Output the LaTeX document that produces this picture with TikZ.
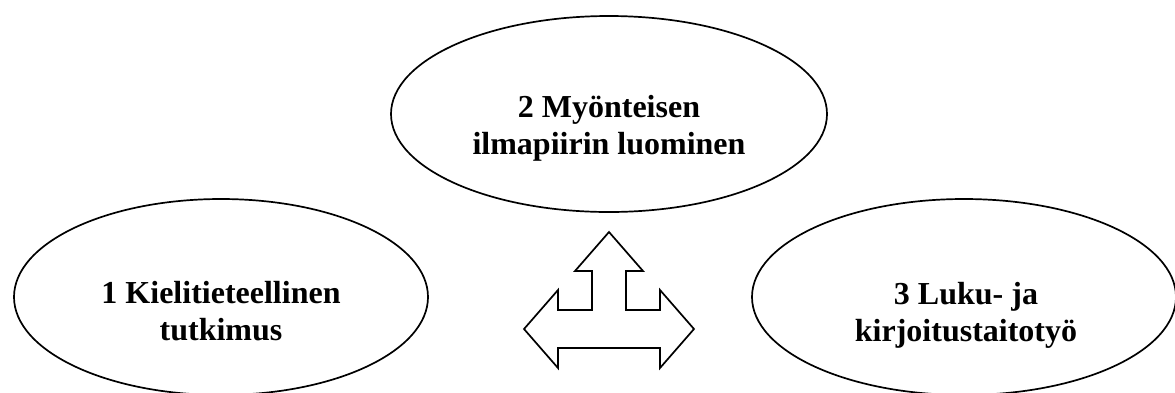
\documentclass[tikz,border=0pt]{standalone}
\usepackage{fontspec}
\setmainfont{Liberation Serif}
\usetikzlibrary{shapes.geometric}
\begin{document}
\begin{tikzpicture}[x=1pt,y=-1pt,
  oval/.style={draw, ellipse, line width=1.7pt, inner sep=0pt},
  ovaltext/.style={align=center, font=\fontsize{32}{37}\selectfont\bfseries, inner sep=0pt},
  bigarrow/.style={draw, line width=1.7pt, line join=miter, fill=white}]
  \useasboundingbox (0,0) rectangle (1175,392);

  % the three fields of work
  \node[oval, minimum width=414pt, minimum height=196pt] (e1) at (221,297) {};
  \node[oval, minimum width=436pt, minimum height=196pt] (e2) at (609,114) {};
  \node[oval, minimum width=424pt, minimum height=196pt] (e3) at (964,297) {};

  \node[ovaltext] (t1) at (221,311) {1 Kielitieteellinen\\tutkimus};
  \node[ovaltext] (t2) at (609,128) {2 Myönteisen\\ilmapiirin luominen};
  \node[ovaltext] (t3) at (966,315) {3 Luku- ja\\kirjoitustaitotyö};

  % three-way block arrow between them
  \draw[bigarrow]
    (609,232) -- (643,271) -- (626,271) -- (626,310) -- (660,310) -- (660,290)
    -- (694,329) -- (660,368) -- (660,348) -- (558,348) -- (558,368)
    -- (524,329) -- (558,290) -- (558,310) -- (592,310) -- (592,271)
    -- (575,271) -- cycle;
\end{tikzpicture}
\end{document}
